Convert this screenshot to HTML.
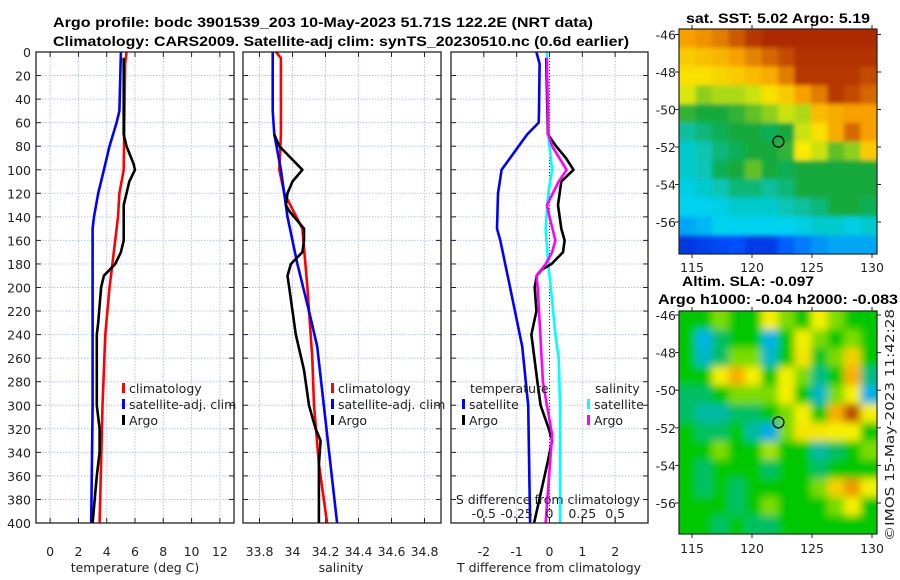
<!DOCTYPE html>
<html><head><meta charset="utf-8"><style>
body{margin:0;background:#fff;}
svg{display:block;font-family:"Liberation Sans","DejaVu Sans",sans-serif;}
.t{font-size:12.5px;fill:#222;font-family:"DejaVu Sans","Liberation Sans",sans-serif;}
.b{font-weight:bold;font-size:13.5px;fill:#000;}
</style></head><body>
<svg id="s" width="900" height="580" viewBox="0 0 900 580">
<text class="b" x="323" y="27" text-anchor="middle" textLength="540" lengthAdjust="spacingAndGlyphs">Argo profile: bodc 3901539_203 10-May-2023 51.71S 122.2E (NRT data)</text>
<text class="b" x="341" y="46" text-anchor="middle" textLength="576" lengthAdjust="spacingAndGlyphs">Climatology: CARS2009. Satellite-adj clim: synTS_20230510.nc (0.6d earlier)</text>
<text class="b" x="778" y="23" text-anchor="middle" textLength="184" lengthAdjust="spacingAndGlyphs">sat. SST: 5.02 Argo: 5.19</text>
<text class="b" x="682" y="286" textLength="132" lengthAdjust="spacingAndGlyphs">Altim. SLA: -0.097</text>
<text class="b" x="658" y="304" textLength="240" lengthAdjust="spacingAndGlyphs">Argo h1000: -0.04 h2000: -0.083</text>
<text class="t" transform="translate(894,541) rotate(-90)" textLength="232" lengthAdjust="spacingAndGlyphs">©IMOS 15-May-2023 11:42:28</text>
<defs><filter id="bl" x="0" y="0" width="1" height="1"><feGaussianBlur stdDeviation="4"/></filter>
<filter id="bl1" x="0" y="0" width="1" height="1"><feGaussianBlur stdDeviation="2"/></filter>
<clipPath id="c1"><rect x="679" y="29" width="198" height="225"/></clipPath>
<clipPath id="c2"><rect x="679" y="311" width="198" height="223"/></clipPath></defs>
<g id="g"></g>
</svg>
<script>
// ---- data ----
const depths = [0,20,40,60,80,100,120,140,160,180,200,220,240,260,280,300,320,340,360,380,400];
const tClimD=[0,10,100,120,140,180,200,240,300,400];
const tClim=[5.4,5.3,5.2,4.9,4.8,4.4,4.2,3.9,3.7,3.5];
const tSatD=[0,50,60,80,100,120,140,150,200,300,400];
const tSat=[5.0,4.9,4.7,4.2,3.8,3.4,3.1,3.0,3.0,3.0,2.9];
const tArgoD=[5,70,80,95,100,110,130,160,170,180,190,200,230,240,300,320,340,360,400];
const tArgo=[5.2,5.2,5.4,5.9,6.0,5.6,5.2,5.2,5.0,4.6,3.8,3.6,3.4,3.3,3.3,3.5,3.5,3.3,3.0];
const sClimD=[0,5,70,100,120,150,200,260,300,350,400];
const sClim=[33.9,33.93,33.93,33.92,33.95,34.06,34.09,34.12,34.13,34.16,34.21];
const sSatD=[0,50,70,100,140,180,220,250,300,400];
const sSat=[33.88,33.88,33.89,33.93,33.97,34.03,34.1,34.15,34.19,34.27];
const sArgoD=[70,80,90,100,110,120,130,135,150,160,170,180,190,200,240,270,300,320,330,350,400];
const sArgo=[33.89,33.92,33.99,34.06,34.0,33.97,33.96,33.98,34.07,34.07,34.06,33.99,33.97,33.98,34.02,34.07,34.1,34.14,34.17,34.16,34.16];
const dTSatD=[0,10,50,60,70,80,100,120,150,160,200,250,300,400];
const dTSat=[-0.4,-0.3,-0.32,-0.33,-0.68,-0.94,-1.46,-1.57,-1.6,-1.5,-1.2,-0.83,-0.65,-0.59];
const dTArgoD=[5,70,80,90,100,110,130,150,160,170,180,185,190,200,220,240,280,300,320,330,350,400];
const dTArgo=[-0.1,-0.05,0.2,0.5,0.73,0.36,0.26,0.36,0.46,0.41,0.06,-0.24,-0.39,-0.45,-0.4,-0.55,-0.37,-0.27,-0.02,0.08,-0.07,-0.47];
const dSSatD=[0,70,100,120,150,180,200,240,260,300,400];
const dSSat=[-0.02,-0.01,0.02,-0.01,-0.03,-0.01,0.01,0.045,0.07,0.08,0.08];
const dSArgoD=[5,70,80,100,110,130,140,160,170,180,190,200,240,280,300,325,400];
const dSArgo=[-0.02,-0.01,0.02,0.13,0.07,-0.02,0.0,0.045,0.02,-0.03,-0.1,-0.09,-0.07,-0.05,-0.02,0.02,-0.03];
const tTicks=[0,2,4,6,8,10,12];
const sTicks=[33.8,34,34.2,34.4,34.6,34.8];
const sTickLabels=["33.8","34","34.2","34.4","34.6","34.8"];
const dTicks=[-2,-1,0,1,2];
const dsTicks=[-0.5,-0.25,0,0.25,0.5];
const lonTicks=[115,120,125,130];
const latTicks=[-46,-48,-50,-52,-54,-56];
const argoLon=122.2, argoLat=-51.71;
const sstGrid=[
[.8,.82,.85,.9,.95,.97,.97,.97,.97,.97,.97,.97],
[.72,.74,.76,.8,.84,.88,.92,.96,.96,.96,.96,.96],
[.68,.68,.7,.72,.75,.78,.85,.95,.95,.95,.95,.92],
[.63,.58,.6,.6,.62,.68,.72,.8,.85,.95,.92,.88],
[.52,.5,.5,.52,.55,.58,.62,.6,.75,.78,.8,.8],
[.42,.45,.48,.5,.5,.48,.5,.62,.68,.78,.88,.8],
[.38,.4,.45,.48,.5,.5,.52,.66,.62,.55,.58,.72],
[.38,.4,.48,.5,.55,.5,.48,.5,.5,.5,.5,.5],
[.36,.38,.4,.45,.45,.42,.45,.5,.5,.5,.5,.5],
[.35,.35,.36,.38,.38,.38,.4,.42,.45,.5,.5,.48],
[.3,.32,.35,.35,.35,.35,.35,.36,.38,.38,.36,.38],
[.14,.16,.18,.2,.15,.15,.22,.25,.28,.3,.3,.3]];
const slaGrid=[
[.5,.5,.56,.5,.5,.62,.56,.5,.62,.56,.5,.5],
[.5,.36,.44,.5,.5,.36,.5,.62,.56,.5,.56,.5],
[.5,.38,.44,.56,.56,.38,.5,.64,.48,.56,.68,.5],
[.5,.5,.62,.74,.62,.5,.62,.56,.42,.5,.74,.42],
[.44,.44,.5,.56,.56,.56,.62,.5,.38,.56,.62,.36],
[.44,.4,.4,.44,.44,.5,.56,.62,.5,.74,.92,.62],
[.5,.44,.44,.5,.4,.34,.56,.64,.64,.62,.62,.5],
[.5,.5,.56,.5,.5,.58,.5,.5,.4,.44,.5,.56],
[.5,.44,.5,.5,.5,.44,.5,.5,.44,.5,.5,.5],
[.5,.44,.5,.44,.5,.5,.5,.5,.56,.68,.78,.62],
[.5,.5,.5,.44,.5,.56,.5,.5,.5,.56,.62,.5],
[.5,.5,.44,.5,.44,.44,.5,.5,.5,.5,.5,.5]];
// ---- drawing ----
const NS='http://www.w3.org/2000/svg';
const G=document.getElementById('g');
function mk(tag,at,parent){const e=document.createElementNS(NS,tag);for(const k in at)e.setAttribute(k,at[k]);(parent||G).appendChild(e);return e;}
const Y0=52,Y1=523;
const yD=d=>Y0+(d/400)*(Y1-Y0);
const panels=[
 {x0:36,x1:234,lo:-1,hi:13,name:'temperature-panel'},
 {x0:243,x1:441,lo:33.7,hi:34.9,name:'salinity-panel'},
 {x0:451,x1:648,lo:-3,hi:3,name:'difference-panel'}];
panels.forEach(p=>{p.f=v=>p.x0+(v-p.lo)/(p.hi-p.lo)*(p.x1-p.x0);});
const fT=panels[0].f,fS=panels[1].f,fD=panels[2].f,fDS=v=>fD(v*4);
function grid(p,ticks){
  ticks.forEach(v=>{const l=mk('line',{x1:p.f(v),x2:p.f(v),y1:Y0,y2:Y1,stroke:'#b8c4e8','stroke-width':1,'stroke-dasharray':'1.5,1.5'});
  
  mk('line',{x1:p.f(v),x2:p.f(v),y1:Y1,y2:Y1-5,stroke:'#222'});mk('line',{x1:p.f(v),x2:p.f(v),y1:Y0,y2:Y0+5,stroke:'#222'});});
  depths.forEach(d=>{const l=mk('line',{x1:p.x0,x2:p.x1,y1:yD(d),y2:yD(d),stroke:'#b8c4e8','stroke-width':1,'stroke-dasharray':'1.5,1.5'});
  
  mk('line',{x1:p.x0,x2:p.x0+5,y1:yD(d),y2:yD(d),stroke:'#222'});mk('line',{x1:p.x1,x2:p.x1-5,y1:yD(d),y2:yD(d),stroke:'#222'});});
}
grid(panels[0],tTicks);grid(panels[1],sTicks);grid(panels[2],dTicks);
dsTicks.forEach(v=>{mk('line',{x1:fDS(v),x2:fDS(v),y1:Y1,y2:Y1-5,stroke:'#222'});});
function line(ds,vs,fx,col,name,dash){
  const pts=ds.map((d,i)=>fx(vs[i]).toFixed(1)+','+yD(d).toFixed(1)).join(' ');
  const l=mk('polyline',{points:pts,fill:'none',stroke:col,'stroke-width':dash?1:2.6,'stroke-linejoin':'round'});
  if(dash)l.setAttribute('stroke-dasharray','1,2');
  
}
line(tClimD,tClim,fT,'#ff0000','temp-climatology-line');
line(tSatD,tSat,fT,'#0000ff','temp-satellite-line');
line(tArgoD,tArgo,fT,'#000','temp-argo-line');
line(sClimD,sClim,fS,'#ff0000','sal-climatology-line');
line(sSatD,sSat,fS,'#0000ff','sal-satellite-line');
line(sArgoD,sArgo,fS,'#000','sal-argo-line');
line([0,400],[0,0],fD,'#333','zero-line',true);
line(dTSatD,dTSat,fD,'#0000ff','dt-satellite-line');
line(dSSatD,dSSat,fDS,'#00ffff','ds-satellite-line');
line(dTArgoD,dTArgo,fD,'#000','dt-argo-line');
line(dSArgoD,dSArgo,fDS,'#ff00ff','ds-argo-line');
panels.forEach(p=>{const r=mk('rect',{x:p.x0,y:Y0,width:p.x1-p.x0,height:Y1-Y0,fill:'none',stroke:'#222','stroke-width':1.3});
 });
function txt(x,y,s,anchor,name,extra){const t=mk('text',Object.assign({x:x,y:y,class:'t','text-anchor':anchor||'middle'},extra||{}));t.textContent=s;
 return t;}
depths.forEach(d=>txt(31,yD(d)+5,String(d),'end','y-tick-label'));
tTicks.forEach(v=>txt(fT(v),556,String(v),'middle','x-tick-label'));
sTicks.forEach((v,i)=>txt(fS(v),556,sTickLabels[i],'middle','x-tick-label'));
dTicks.forEach(v=>txt(fD(v),556,String(v),'middle','x-tick-label'));
dsTicks.forEach(v=>txt(fDS(v),518,String(v),'middle','s-diff-tick-label'));
txt(135,572,'temperature (deg C)','middle','x-axis-title-temperature');
txt(341,572,'salinity','middle','x-axis-title-salinity');
txt(549,572,'T difference from climatology','middle','x-axis-title-t-diff');
txt(548,504,'S difference from climatology','middle','s-axis-title-s-diff');
function leg(x,y,col,s,name){const r=mk('rect',{x:x,y:y-10,width:3,height:10,fill:col});
 txt(x+7,y,s,'start',name);}
[0,1].forEach(k=>{const x=k?331:122;
 leg(x,393,'#ff0000','climatology','legend-climatology');leg(x,409,'#0000ff','satellite-adj. clim','legend-satellite-adj');leg(x,425,'#000','Argo','legend-argo');});
txt(470,393,'temperature','start','legend-temperature-header');
leg(462,409,'#0000ff','satellite','legend-t-satellite');leg(462,425,'#000','Argo','legend-t-argo');
txt(595,393,'salinity','start','legend-salinity-header');
leg(587,409,'#00ffff','satellite','legend-s-satellite');leg(587,425,'#ff00ff','Argo','legend-s-argo');
// maps
function interp(st,v){for(let i=1;i<st.length;i++){if(v<=st[i][0]){const a=st[i-1],b=st[i],t=(v-a[0])/(b[0]-a[0]);return 'rgb('+a[1].map((c,j)=>Math.round(c+(b[1][j]-c)*t)).join(',')+')';}}const l=st[st.length-1][1];return 'rgb('+l.join(',')+')';}
const cmap=v=>interp([[0,[0,0,150]],[.2,[0,80,255]],[.35,[0,210,240]],[.5,[20,170,60]],[.65,[248,240,0]],[.8,[248,160,0]],[1,[160,20,0]]],v);
const cmap2=v=>interp([[0,[0,0,150]],[.36,[0,180,230]],[.5,[0,200,0]],[.62,[245,240,0]],[.75,[248,170,0]],[1,[160,30,0]]],v);
function map(x0,y0,w,h,lat0,latPx,gridv,cm,name,blur,clip,ly){
  const grp=mk('g',{'clip-path':'url(#'+clip+')'});
  const inner=mk('g',{filter:'url(#'+blur+')'},grp);
  const rows=gridv.length,cols=gridv[0].length,cw=w/cols,ch=h/rows;
  const pad=10;
  gridv.forEach((row,r)=>row.forEach((v,c)=>{
    let x=x0+c*cw,y=y0+r*ch,ww=cw+0.6,hh=ch+0.6;
    if(c==0){x-=pad;ww+=pad;}if(c==cols-1)ww+=pad;if(r==0){y-=pad;hh+=pad;}if(r==rows-1)hh+=pad;
    const e=mk('rect',{x:x,y:y,width:ww,height:hh,fill:cm(v)},inner);
    }));
  const fx=lon=>692+(lon-115)*12;const fy=lat=>lat0+(lat-(-46))*(-latPx);
  const c=mk('circle',{cx:fx(argoLon),cy:fy(argoLat),r:5.5,fill:'none',stroke:'#000','stroke-width':1.3});
  
  mk('rect',{x:x0,y:y0,width:w,height:h,fill:'none',stroke:'#222','stroke-width':1.2});
  lonTicks.forEach(l=>{mk('line',{x1:fx(l),x2:fx(l),y1:y0+h,y2:y0+h+4,stroke:'#222'});mk('line',{x1:fx(l),x2:fx(l),y1:y0,y2:y0-4,stroke:'#222'});
    txt(fx(l),ly,String(l),'middle','lon-tick-label');});
  latTicks.forEach(l=>{mk('line',{x1:x0-4,x2:x0,y1:fy(l),y2:fy(l),stroke:'#222'});mk('line',{x1:x0+w,x2:x0+w+4,y1:fy(l),y2:fy(l),stroke:'#222'});
    txt(x0-3,fy(l)+5,String(l),'end','lat-tick-label');});
}
map(679,29,198,225,34.5,18.75,sstGrid,cmap,'sst-map','bl1','c1',272);
map(679,311,198,223,315,18.8,slaGrid,cmap2,'sla-map','bl','c2',553);
</script>
</body></html>
